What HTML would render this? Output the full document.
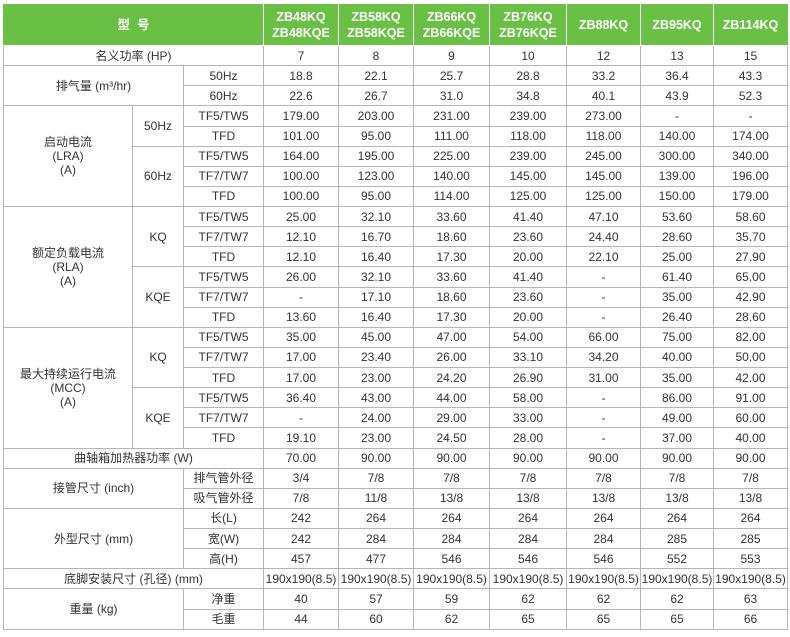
<!DOCTYPE html>
<html><head><meta charset="utf-8">
<style>
body{margin:0;background:#fff;width:790px;height:637px;overflow:hidden;}
table{position:absolute;left:3px;top:4px;width:784px;border-collapse:collapse;table-layout:fixed;font-family:"Liberation Sans","Noto Sans CJK SC",sans-serif;font-size:12px;color:#333;}
td{border:1px solid #b5b5b5;text-align:center;padding:0;line-height:14px;height:19.13px;white-space:nowrap;overflow:hidden;}
tr.h td{background:#6abf45;color:#fff;font-weight:bold;height:40px;border-color:#fff;border-top-color:#6abf45;font-size:12.5px;line-height:16px;}
tr.h td:first-child{border-left-color:#6abf45;}
tr.h td:last-child{border-right-color:#6abf45;}
</style></head><body>
<table>
<colgroup><col style="width:129px"><col style="width:51px"><col style="width:80px"><col style="width:75px"><col style="width:75px"><col style="width:76px"><col style="width:77px"><col style="width:74px"><col style="width:73px"><col style="width:74px"></colgroup>
<tr class="h"><td colspan="3">型&nbsp;&nbsp;号</td><td>ZB48KQ<br>ZB48KQE</td><td>ZB58KQ<br>ZB58KQE</td><td>ZB66KQ<br>ZB66KQE</td><td>ZB76KQ<br>ZB76KQE</td><td>ZB88KQ</td><td>ZB95KQ</td><td>ZB114KQ</td></tr>
<tr><td colspan="3">名义功率 (HP)</td><td>7</td><td>8</td><td>9</td><td>10</td><td>12</td><td>13</td><td>15</td></tr>
<tr><td colspan="2" rowspan="2">排气量 (m³/hr)</td><td>50Hz</td><td>18.8</td><td>22.1</td><td>25.7</td><td>28.8</td><td>33.2</td><td>36.4</td><td>43.3</td></tr>
<tr><td>60Hz</td><td>22.6</td><td>26.7</td><td>31.0</td><td>34.8</td><td>40.1</td><td>43.9</td><td>52.3</td></tr>
<tr><td rowspan="5">启动电流<br>(LRA)<br>(A)</td><td rowspan="2">50Hz</td><td>TF5/TW5</td><td>179.00</td><td>203.00</td><td>231.00</td><td>239.00</td><td>273.00</td><td>-</td><td>-</td></tr>
<tr><td>TFD</td><td>101.00</td><td>95.00</td><td>111.00</td><td>118.00</td><td>118.00</td><td>140.00</td><td>174.00</td></tr>
<tr><td rowspan="3">60Hz</td><td>TF5/TW5</td><td>164.00</td><td>195.00</td><td>225.00</td><td>239.00</td><td>245.00</td><td>300.00</td><td>340.00</td></tr>
<tr><td>TF7/TW7</td><td>100.00</td><td>123.00</td><td>140.00</td><td>145.00</td><td>145.00</td><td>139.00</td><td>196.00</td></tr>
<tr><td>TFD</td><td>100.00</td><td>95.00</td><td>114.00</td><td>125.00</td><td>125.00</td><td>150.00</td><td>179.00</td></tr>
<tr><td rowspan="6">额定负载电流<br>(RLA)<br>(A)</td><td rowspan="3">KQ</td><td>TF5/TW5</td><td>25.00</td><td>32.10</td><td>33.60</td><td>41.40</td><td>47.10</td><td>53.60</td><td>58.60</td></tr>
<tr><td>TF7/TW7</td><td>12.10</td><td>16.70</td><td>18.60</td><td>23.60</td><td>24.40</td><td>28.60</td><td>35.70</td></tr>
<tr><td>TFD</td><td>12.10</td><td>16.40</td><td>17.30</td><td>20.00</td><td>22.10</td><td>25.00</td><td>27.90</td></tr>
<tr><td rowspan="3">KQE</td><td>TF5/TW5</td><td>26.00</td><td>32.10</td><td>33.60</td><td>41.40</td><td>-</td><td>61.40</td><td>65.00</td></tr>
<tr><td>TF7/TW7</td><td>-</td><td>17.10</td><td>18.60</td><td>23.60</td><td>-</td><td>35.00</td><td>42.90</td></tr>
<tr><td>TFD</td><td>13.60</td><td>16.40</td><td>17.30</td><td>20.00</td><td>-</td><td>26.40</td><td>28.60</td></tr>
<tr><td rowspan="6">最大持续运行电流<br>(MCC)<br>(A)</td><td rowspan="3">KQ</td><td>TF5/TW5</td><td>35.00</td><td>45.00</td><td>47.00</td><td>54.00</td><td>66.00</td><td>75.00</td><td>82.00</td></tr>
<tr><td>TF7/TW7</td><td>17.00</td><td>23.40</td><td>26.00</td><td>33.10</td><td>34.20</td><td>40.00</td><td>50.00</td></tr>
<tr><td>TFD</td><td>17.00</td><td>23.00</td><td>24.20</td><td>26.90</td><td>31.00</td><td>35.00</td><td>42.00</td></tr>
<tr><td rowspan="3">KQE</td><td>TF5/TW5</td><td>36.40</td><td>43.00</td><td>44.00</td><td>58.00</td><td>-</td><td>86.00</td><td>91.00</td></tr>
<tr><td>TF7/TW7</td><td>-</td><td>24.00</td><td>29.00</td><td>33.00</td><td>-</td><td>49.00</td><td>60.00</td></tr>
<tr><td>TFD</td><td>19.10</td><td>23.00</td><td>24.50</td><td>28.00</td><td>-</td><td>37.00</td><td>40.00</td></tr>
<tr><td colspan="3">曲轴箱加热器功率 (W)</td><td>70.00</td><td>90.00</td><td>90.00</td><td>90.00</td><td>90.00</td><td>90.00</td><td>90.00</td></tr>
<tr><td colspan="2" rowspan="2">接管尺寸 (inch)</td><td>排气管外径</td><td>3/4</td><td>7/8</td><td>7/8</td><td>7/8</td><td>7/8</td><td>7/8</td><td>7/8</td></tr>
<tr><td>吸气管外径</td><td>7/8</td><td>11/8</td><td>13/8</td><td>13/8</td><td>13/8</td><td>13/8</td><td>13/8</td></tr>
<tr><td colspan="2" rowspan="3">外型尺寸 (mm)</td><td>长(L)</td><td>242</td><td>264</td><td>264</td><td>264</td><td>264</td><td>264</td><td>264</td></tr>
<tr><td>宽(W)</td><td>242</td><td>284</td><td>284</td><td>284</td><td>284</td><td>285</td><td>285</td></tr>
<tr><td>高(H)</td><td>457</td><td>477</td><td>546</td><td>546</td><td>546</td><td>552</td><td>553</td></tr>
<tr><td colspan="3">底脚安装尺寸 (孔径) (mm)</td><td>190x190(8.5)</td><td>190x190(8.5)</td><td>190x190(8.5)</td><td>190x190(8.5)</td><td>190x190(8.5)</td><td>190x190(8.5)</td><td>190x190(8.5)</td></tr>
<tr><td colspan="2" rowspan="2">重量 (kg)</td><td>净重</td><td>40</td><td>57</td><td>59</td><td>62</td><td>62</td><td>62</td><td>63</td></tr>
<tr><td>毛重</td><td>44</td><td>60</td><td>62</td><td>65</td><td>65</td><td>65</td><td>66</td></tr>
</table>
</body></html>
